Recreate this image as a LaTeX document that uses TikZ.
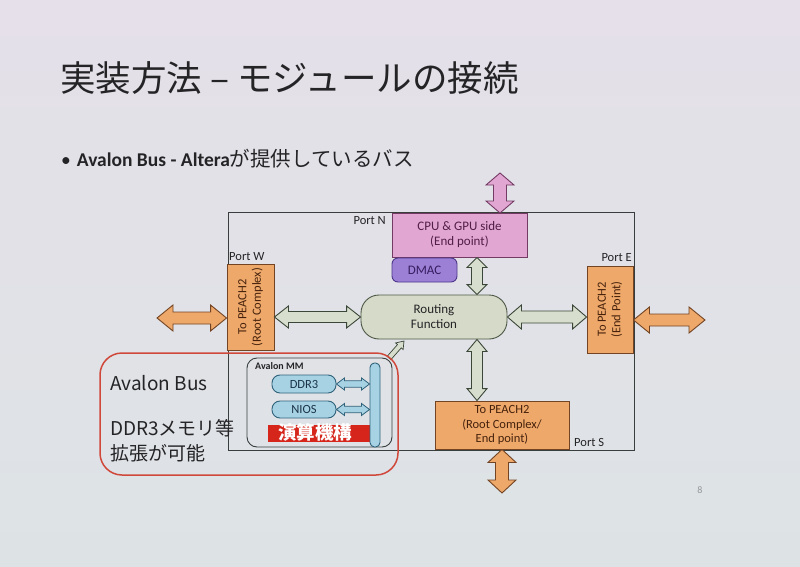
\documentclass[tikz,border=0pt]{standalone}
\usepackage{fontspec}
\setmainfont{Carlito}
\newfontfamily\jp{Noto Sans CJK JP}
\usetikzlibrary{calc}

\definecolor{bgtop}{RGB}{229,224,233}
\definecolor{bgbot}{RGB}{221,227,229}
\definecolor{orfill}{RGB}{238,168,106}
\definecolor{ordraw}{RGB}{115,68,35}
\definecolor{ortext}{RGB}{70,34,12}
\definecolor{pkfill}{RGB}{226,166,210}
\definecolor{pkdraw}{RGB}{115,58,100}
\definecolor{pktext}{RGB}{80,30,72}
\definecolor{pufill}{RGB}{156,128,214}
\definecolor{pudraw}{RGB}{78,55,138}
\definecolor{putext}{RGB}{55,28,95}
\definecolor{rffill}{RGB}{214,218,200}
\definecolor{rfdraw}{RGB}{78,88,70}
\definecolor{grfill}{RGB}{216,222,205}
\definecolor{grdraw}{RGB}{58,70,55}
\definecolor{blfill}{RGB}{166,210,228}
\definecolor{bldraw}{RGB}{48,98,122}
\definecolor{bltext}{RGB}{28,52,72}
\definecolor{redline}{RGB}{208,72,58}
\definecolor{redfill}{RGB}{214,38,28}
\definecolor{framec}{RGB}{55,62,60}
\definecolor{ink}{RGB}{36,36,38}
\definecolor{pagegray}{RGB}{150,152,155}

% double block arrow: style, A, B, head length, half head width, half shaft width
\newcommand\dblarrow[6]{%
  \draw[#1] (#2)
    -- ($($(#2)!#4!(#3)$)!#5!90:(#3)$)
    -- ($($(#2)!#4!(#3)$)!#6!90:(#3)$)
    -- ($($(#3)!#4!(#2)$)!#6!90:(#3)$)
    -- ($($(#3)!#4!(#2)$)!#5!90:(#3)$)
    -- (#3)
    -- ($($(#3)!#4!(#2)$)!#5!-90:(#3)$)
    -- ($($(#3)!#4!(#2)$)!#6!-90:(#3)$)
    -- ($($(#2)!#4!(#3)$)!#6!-90:(#3)$)
    -- ($($(#2)!#4!(#3)$)!#5!-90:(#3)$)
    -- cycle;}
% single block arrow
\newcommand\sglarrow[6]{%
  \draw[#1] ($(#2)!#6!90:(#3)$)
    -- ($($(#3)!#4!(#2)$)!#6!90:(#3)$)
    -- ($($(#3)!#4!(#2)$)!#5!90:(#3)$)
    -- (#3)
    -- ($($(#3)!#4!(#2)$)!#5!-90:(#3)$)
    -- ($($(#3)!#4!(#2)$)!#6!-90:(#3)$)
    -- ($(#2)!#6!-90:(#3)$)
    -- cycle;}

\tikzset{
  box/.style={draw, line width=0.9pt, inner sep=0pt, align=center,
    font=\fontsize{13}{15}\selectfont},
  orbox/.style={box, fill=orfill, draw=ordraw},
  lbl/.style={inner sep=0pt, font=\fontsize{12.5}{14}\selectfont, text=ink},
  orarrow/.style={fill=orfill, draw=ordraw, line width=0.9pt, line join=miter},
  grarrow/.style={fill=grfill, draw=grdraw, line width=0.9pt, line join=miter},
  pkarrow/.style={fill=pkfill, draw=pkdraw, line width=0.9pt, line join=miter},
  blarrow/.style={fill=blfill, draw=bldraw, line width=0.8pt, line join=miter},
  bigjp/.style={inner sep=0pt, anchor=west, text=ink, font=\jp\fontsize{19}{22}\selectfont},
}

\begin{document}
\begin{tikzpicture}[x=1pt, y=-1pt]
\useasboundingbox (0,0) rectangle (800,567);
\fill[top color=bgtop, bottom color=bgbot] (0,0) rectangle (800,567);

% title and bullet
\node[anchor=west, inner sep=0pt, text=ink, font=\jp\fontsize{35.5}{38}\selectfont] (title) at (60,78) {実装方法 – モジュールの接続};
\node[anchor=west, inner sep=0pt, text=ink, font=\fontsize{19.5}{22}\selectfont] (bullet) at (61,159)
  {\textbullet\hspace{6pt}\textbf{Avalon Bus - Altera}{\jp\fontsize{20.5}{22}\selectfont が提供しているバス}};

% outer frame
\node[draw=framec, line width=1pt, inner sep=0pt, minimum width=406pt, minimum height=238pt] (frame) at (431,331) {};

% boxes
\node[box, fill=pkfill, draw=pkdraw, text=pktext, minimum width=135pt, minimum height=44pt] (cpu) at (459.5,235) {CPU \& GPU side\\(End point)};
\node[box, fill=pufill, draw=pudraw, text=putext, rounded corners=6pt, minimum width=65pt, minimum height=24pt, font=\fontsize{13}{15}\selectfont] (dmac) at (424.5,270) {DMAC};
\node[box, fill=rffill, draw=rfdraw, text=ink, rounded corners=18pt, minimum width=146pt, minimum height=44pt] (rf) at (434,317) {Routing\\Function};
\node[orbox, minimum width=47pt, minimum height=86pt] (pw) at (250.5,307) {};
\node[rotate=90, align=center, inner sep=0pt, text=ortext, font=\fontsize{12.5}{14.5}\selectfont] (pwt) at (pw.center) {To PEACH2\\(Root Complex)};
\node[orbox, minimum width=46pt, minimum height=87pt] (pe) at (610,309.5) {};
\node[rotate=90, align=center, inner sep=0pt, text=ortext, font=\fontsize{12.5}{14.5}\selectfont] (pet) at (pe.center) {To PEACH2\\(End Point)};
\node[orbox, text=ortext, minimum width=134pt, minimum height=48pt, font=\fontsize{12.5}{14.5}\selectfont] (ps) at (502,425) {To PEACH2\\(Root Complex/\\End point)};

% port labels
\node[lbl, anchor=east] (portn) at (386,221) {Port N};
\node[lbl, anchor=west] (portw) at (229,257) {Port W};
\node[lbl, anchor=east] (porte) at (632,258) {Port E};
\node[lbl, anchor=west] (ports) at (574,442) {Port S};

% Avalon MM block
\node[draw=framec, line width=0.9pt, rounded corners=10pt, inner sep=0pt, minimum width=145pt, minimum height=89pt] (mm) at (319.5,402.5) {};
\node[lbl, anchor=west, font=\bfseries\fontsize{10}{12}\selectfont] (mmt) at (255,366) {Avalon MM};
\node[box, fill=blfill, draw=bldraw, text=bltext, rounded corners=8pt, minimum width=64pt, minimum height=18pt, font=\fontsize{12.5}{14}\selectfont] (ddr) at (304,384) {DDR3};
\node[box, fill=blfill, draw=bldraw, text=bltext, rounded corners=8pt, minimum width=64pt, minimum height=17pt, font=\fontsize{12.5}{14}\selectfont] (nios) at (304,409.5) {NIOS};
\node[fill=redfill, inner sep=0pt, minimum width=102pt, minimum height=17pt] (calcbox) at (319,433) {};
\node[inner sep=0pt, text=white, font=\jp\bfseries\fontsize{18.5}{18}\selectfont] (calct) at (315,432.5) {演算機構};
\node[box, fill=blfill, draw=bldraw, rounded corners=4.5pt, minimum width=10pt, minimum height=84pt] (bar) at (375,405) {};

% coordinates for free ends
\coordinate (vx) at (477,0);
\coordinate (ntop) at (500,173);
\coordinate (nbot) at (500,213);
\coordinate (wl) at (157,318);
\coordinate (er) at (705,320);
\coordinate (sbot) at (502,493);
\coordinate (dgs) at (389,358);
\coordinate (dgt) at (404,341);

% arrows
\dblarrow{pkarrow}{ntop}{nbot}{12pt}{14pt}{6.5pt}
\dblarrow{orarrow}{wl}{pw.west |- wl}{16pt}{13pt}{6pt}
\dblarrow{orarrow}{pe.east |- er}{er}{16pt}{13pt}{6pt}
\dblarrow{orarrow}{ps.south}{sbot}{13pt}{14pt}{6.5pt}
\dblarrow{grarrow}{cpu.south -| vx}{rf.north -| vx}{10pt}{10pt}{5.5pt}
\dblarrow{grarrow}{rf.south -| vx}{ps.north -| vx}{12pt}{10pt}{5.5pt}
\dblarrow{grarrow}{pw.east |- rf.west}{rf.west}{14pt}{11pt}{5.5pt}
\dblarrow{grarrow}{rf.east}{pe.west |- rf.east}{14pt}{12pt}{6pt}
\dblarrow{blarrow}{ddr.east}{bar.west |- ddr.east}{8pt}{6pt}{3.2pt}
\dblarrow{blarrow}{nios.east}{bar.west |- nios.east}{8pt}{6pt}{3.2pt}
\sglarrow{grarrow, line width=0.7pt}{dgs}{dgt}{7pt}{5pt}{2.5pt}

% red grouping outline and its texts
\node[draw=redline, line width=1.5pt, rounded corners=22pt, inner sep=0pt, minimum width=298pt, minimum height=122pt] (grp) at (249,414) {};
\node[bigjp] (ab) at (110,383) {Avalon Bus};
\node[bigjp] (dd) at (110,428) {DDR3メモリ等};
\node[bigjp] (kk) at (110,453) {拡張が可能};

% page number
\node[inner sep=0pt, text=pagegray, font=\fontsize{10}{12}\selectfont] (pg) at (700,490) {8};
\end{tikzpicture}
\end{document}
